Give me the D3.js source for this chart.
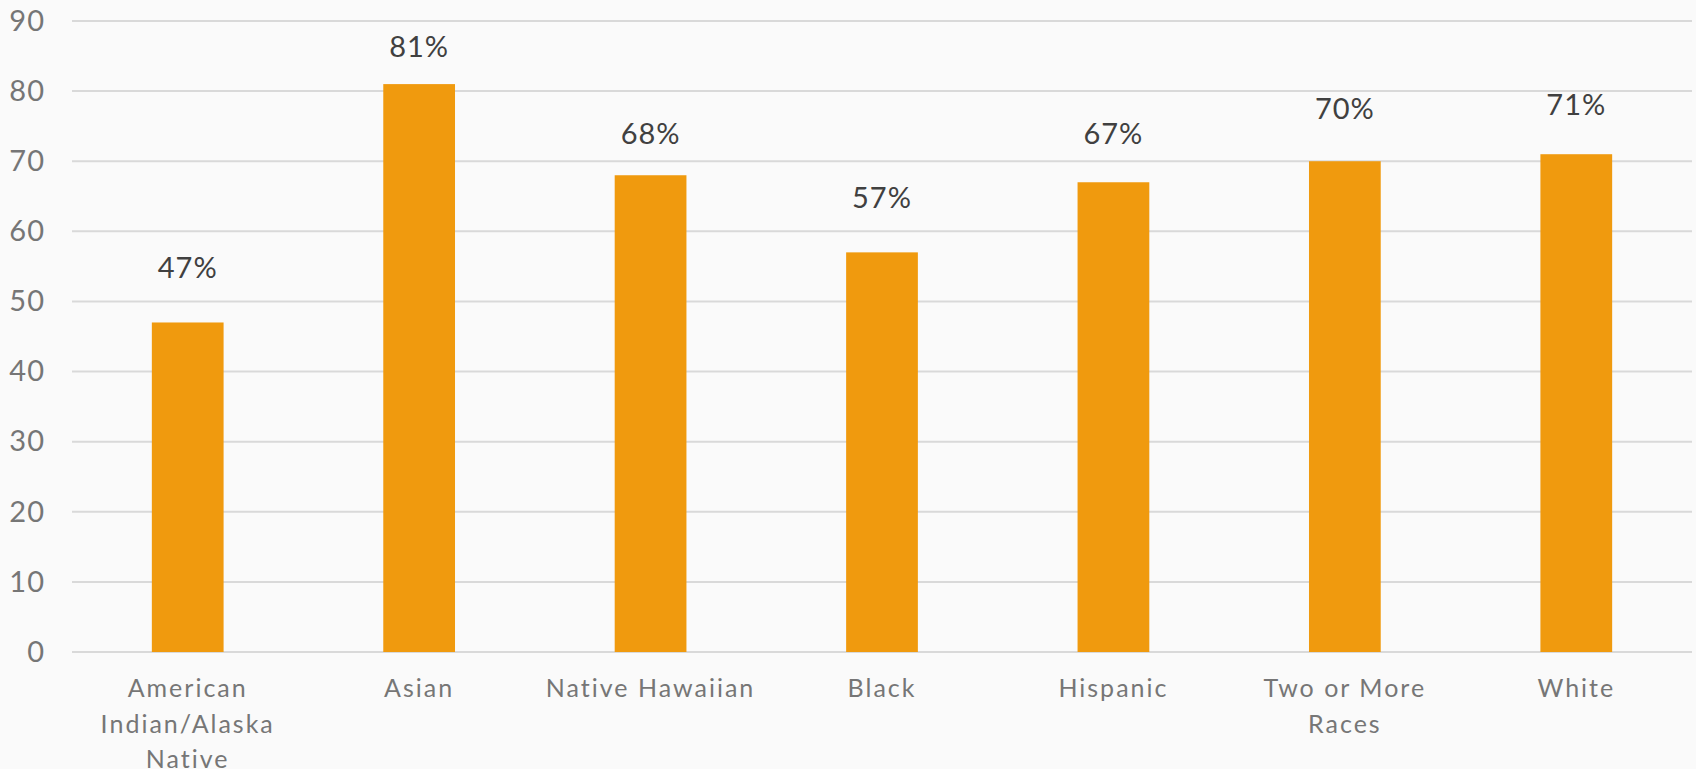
<!DOCTYPE html>
<html>
<head>
<meta charset="utf-8">
<script src="https://cdn.jsdelivr.net/npm/d3@7"></script>
<style>
  html, body { margin: 0; padding: 0; background: #fafafa; }
  svg { display: block; font-family: "Century Gothic", "Lato", sans-serif; }
</style>
</head>
<body>
<script>
var categories = ["American Indian/Alaska Native", "Asian", "Native Hawaiian", "Black", "Hispanic", "Two or More Races", "White"];
var values = [47, 81, 68, 57, 67, 70, 71];
var valueLabels = ["47%", "81%", "68%", "57%", "67%", "70%", "71%"];
var yTicks = [0, 10, 20, 30, 40, 50, 60, 70, 80, 90];

// labels were placed by hand in the original, distance above the bar top in px
var labelOffsets = [44, 27, 31, 44, 38, 42, 39];

var width = 1696, height = 769;
var plotLeft = 72, plotRight = 1692, plotTop = 21, plotBottom = 652;

var svg = d3.select("body").append("svg")
  .attr("width", width)
  .attr("height", height);

var x = d3.scaleBand()
  .domain(categories)
  .range([plotLeft, plotRight])
  .paddingInner(0.69)
  .paddingOuter(0.345);

var y = d3.scaleLinear()
  .domain([0, 90])
  .range([plotBottom, plotTop]);

// grid lines
svg.append("g")
  .selectAll("line")
  .data(yTicks)
  .enter()
  .append("line")
  .attr("x1", plotLeft)
  .attr("x2", plotRight)
  .attr("y1", function(d) { return y(d); })
  .attr("y2", function(d) { return y(d); })
  .style("stroke", "#d9d9d9")
  .style("stroke-width", 2);

// y axis labels
var yAxis = svg.append("g")
  .attr("transform", "translate(" + (plotLeft - 27) + ",0)")
  .call(d3.axisLeft(y).tickValues(yTicks).tickSize(0).tickPadding(0));
yAxis.select(".domain").remove();
yAxis.selectAll("text")
  .style("font-size", "29px")
  .style("font-family", "Century Gothic, Lato, sans-serif")
  .style("letter-spacing", "1px")
  .style("fill", "#767676");

// bars
svg.append("g")
  .selectAll("rect")
  .data(values)
  .enter()
  .append("rect")
  .attr("x", function(d, i) { return x(categories[i]); })
  .attr("y", function(d) { return y(d); })
  .attr("width", x.bandwidth())
  .attr("height", function(d) { return y(0) - y(d); })
  .style("fill", "#f09a0e");

// value labels
svg.append("g")
  .selectAll("text")
  .data(values)
  .enter()
  .append("text")
  .attr("x", function(d, i) { return x(categories[i]) + x.bandwidth() / 2; })
  .attr("y", function(d, i) { return y(d) - labelOffsets[i]; })
  .attr("text-anchor", "middle")
  .style("font-size", "29px")
  .style("letter-spacing", "1px")
  .style("fill", "#404040")
  .text(function(d, i) { return valueLabels[i]; });

// category labels with wrapping
var xAxis = svg.append("g")
  .attr("transform", "translate(0," + plotBottom + ")")
  .call(d3.axisBottom(x).tickSize(0).tickPadding(0));
xAxis.select(".domain").remove();
xAxis.selectAll("text")
  .style("font-size", "25px")
  .style("font-family", "Century Gothic, Lato, sans-serif")
  .style("letter-spacing", "2px")
  .style("fill", "#767676")
  .attr("y", 45)
  .attr("dy", 0)
  .call(wrap, 222);

function wrap(texts, maxWidth) {
  texts.each(function() {
    var text = d3.select(this);
    var words = text.text().split(/\s+/);
    var line = [];
    var lineNo = 0;
    var yPos = text.attr("y");
    text.text(null);
    var tspan = text.append("tspan").attr("x", 0).attr("y", yPos);
    words.forEach(function(w) {
      line.push(w);
      tspan.text(line.join(" "));
      if (tspan.node().getComputedTextLength() > maxWidth && line.length > 1) {
        line.pop();
        tspan.text(line.join(" "));
        line = [w];
        lineNo++;
        tspan = text.append("tspan").attr("x", 0).attr("y", +yPos + lineNo * 35.5).text(w);
      }
    });
  });
}
</script>
</body>
</html>
